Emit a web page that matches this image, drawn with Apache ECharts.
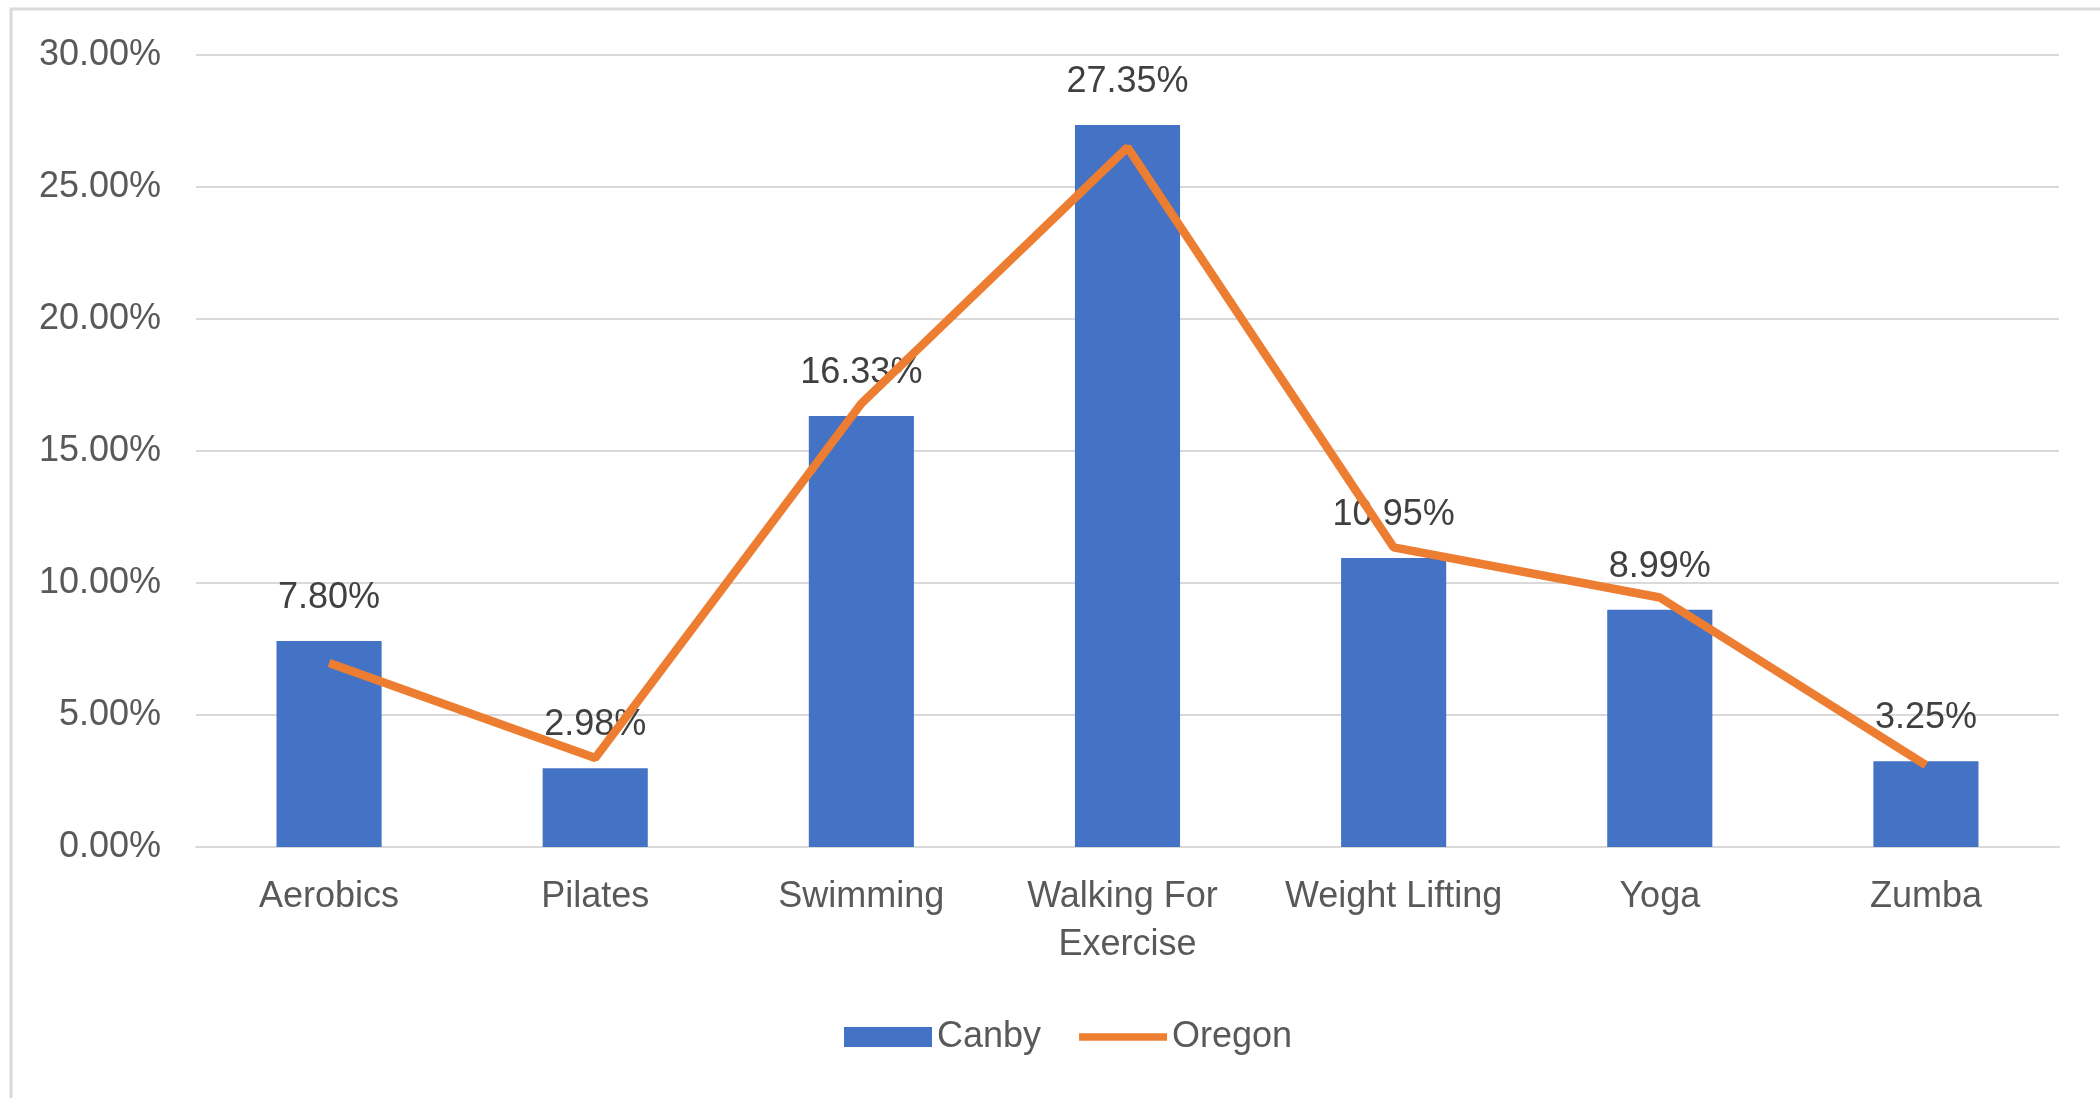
<!DOCTYPE html>
<html>
<head>
<meta charset="utf-8">
<script src="https://cdn.jsdelivr.net/npm/echarts@6/dist/echarts.min.js"></script>
<style>
  html, body { margin: 0; padding: 0; background: #fff; }
  #chart { width: 2100px; height: 1098px; }
</style>
</head>
<body>
<div id="chart"></div>
<script>
// categories and values
var activities = ['Aerobics', 'Pilates', 'Swimming', 'Walking For Exercise', 'Weight Lifting', 'Yoga', 'Zumba'];
var canby = [7.80, 2.98, 16.33, 27.35, 10.95, 8.99, 3.25];
var oregon = [6.97, 3.37, 16.8, 26.5, 11.35, 9.45, 3.1];
var seriesNames = ['Canby', 'Oregon'];

var FONT = '"Liberation Sans", Arial, sans-serif';
var BLUE = '#4472C4';
var ORANGE = '#ED7D31';

var chart = echarts.init(document.getElementById('chart'));

var option = {
    backgroundColor: '#fff',
    animation: false,
    textStyle: { fontFamily: FONT },
    graphic: [
        {
            type: 'polyline',
            shape: { points: [[11, 1098], [11, 9], [2100, 9]] },
            style: { stroke: '#D9D9D9', lineWidth: 3, fill: null },
            silent: true
        }
    ],
    grid: {
        left: 196,
        right: 41,
        top: 55,
        bottom: 251
    },
    legend: {
        data: [
            { name: seriesNames[0], icon: 'rect', itemStyle: { color: BLUE } },
            { name: seriesNames[1], icon: 'path://M0,0H93V8H0Z', itemStyle: { color: ORANGE, borderWidth: 0 } }
        ],
        left: 839,
        top: 1014,
        itemWidth: 88,
        itemHeight: 20,
        itemGap: 38,
        textStyle: { fontSize: 36, color: '#595959', fontFamily: FONT }
    },
    xAxis: {
        type: 'category',
        data: activities,
        axisLine: { show: true, lineStyle: { color: '#D9D9D9', width: 2 } },
        axisTick: { show: false },
        axisLabel: {
            interval: 0,
            margin: 26,
            fontSize: 36,
            lineHeight: 48,
            color: '#595959',
            width: 250,
            overflow: 'break',
            fontFamily: FONT
        }
    },
    yAxis: {
        type: 'value',
        min: 0,
        max: 30,
        interval: 5,
        axisLine: { show: false },
        axisTick: { show: false },
        splitLine: { lineStyle: { color: '#D9D9D9', width: 2 } },
        axisLabel: {
            margin: 35,
            fontSize: 36,
            color: '#595959',
            fontFamily: FONT,
            formatter: function (v) { return v.toFixed(2) + '%'; }
        }
    },
    series: [
        {
            name: 'Canby',
            type: 'bar',
            data: canby,
            barWidth: '39.5%',
            itemStyle: { color: BLUE },
            label: {
                show: true,
                position: 'top',
                distance: 25,
                fontSize: 36,
                color: '#404040',
                fontFamily: FONT,
                formatter: function (p) { return p.value.toFixed(2) + '%'; }
            },
            z: 2
        },
        {
            name: 'Oregon',
            type: 'line',
            data: oregon,
            symbol: 'none',
            showSymbol: false,
            lineStyle: { color: ORANGE, width: 8.5 },
            itemStyle: { color: ORANGE },
            z: 3
        }
    ]
};

chart.setOption(option);
</script>
</body>
</html>
